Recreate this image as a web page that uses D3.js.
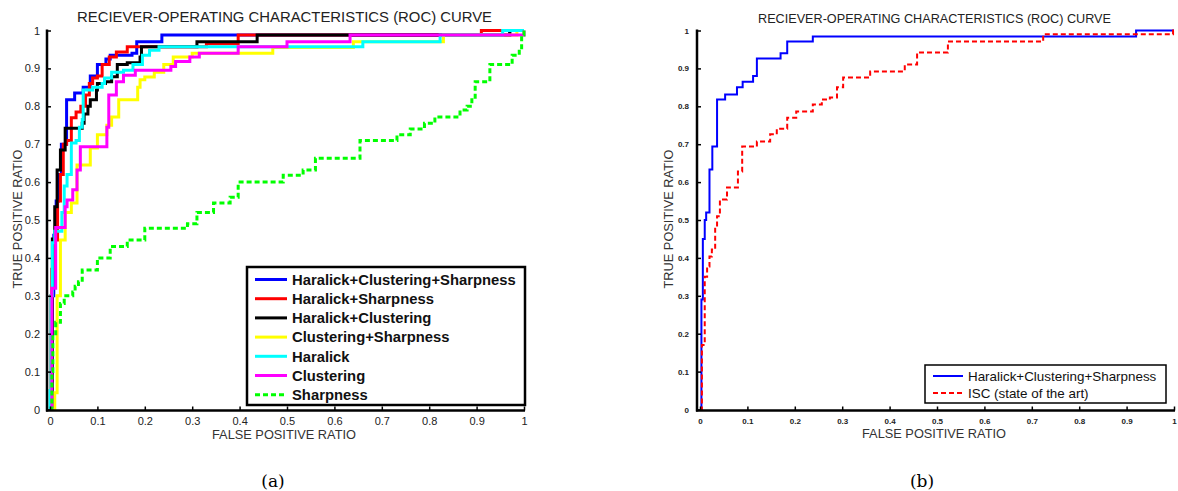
<!DOCTYPE html>
<html>
<head>
<meta charset="utf-8">
<script src="https://cdn.jsdelivr.net/npm/d3@7"></script>
<style>
  body { margin: 0; background: #fff; }
  text { font-family: "Liberation Sans", Arial, sans-serif; }
</style>
</head>
<body>
<div id="application"></div>
<script>
(function roc() {

  var width = 1178;
  var height = 491;

  var ticks = [0, 0.1, 0.2, 0.3, 0.4, 0.5, 0.6, 0.7, 0.8, 0.9, 1];

  // ROC staircases, [false positive ratio, true positive ratio]
  var hcs_a = [[0,0],[0.004,0.3],[0.008,0.46],[0.013,0.55],[0.018,0.62],[0.024,0.7],[0.035,0.817],[0.052,0.835],[0.07,0.85],[0.085,0.88],[0.1,0.91],[0.118,0.925],[0.127,0.935],[0.173,0.94],[0.183,0.97],[0.236,0.988],[0.97,1],[1,1]];
  var hs_a = [[0,0],[0.002,0.3],[0.004,0.37],[0.008,0.447],[0.016,0.55],[0.022,0.62],[0.028,0.7],[0.035,0.71],[0.045,0.77],[0.055,0.785],[0.065,0.8],[0.075,0.83],[0.083,0.86],[0.09,0.875],[0.1,0.88],[0.11,0.91],[0.125,0.93],[0.14,0.943],[0.163,0.957],[0.33,0.965],[0.397,0.988],[0.91,1],[1,1]];
  var hc_a = [[0,0],[0.005,0.45],[0.01,0.535],[0.015,0.632],[0.022,0.685],[0.032,0.742],[0.068,0.755],[0.072,0.78],[0.08,0.8],[0.085,0.817],[0.098,0.843],[0.1,0.86],[0.117,0.865],[0.13,0.878],[0.142,0.91],[0.163,0.915],[0.19,0.93],[0.193,0.957],[0.31,0.97],[0.437,0.988],[0.97,1],[1,1]];
  var cs_a = [[0,0],[0.01,0.044],[0.015,0.3],[0.022,0.447],[0.032,0.52],[0.045,0.545],[0.057,0.645],[0.085,0.69],[0.1,0.725],[0.12,0.75],[0.13,0.772],[0.145,0.817],[0.185,0.85],[0.19,0.87],[0.2,0.877],[0.22,0.89],[0.24,0.91],[0.26,0.93],[0.3,0.94],[0.47,0.955],[0.64,0.97],[0.83,0.988],[0.985,1],[1,1]];
  var har_a = [[0,0],[0,0.05],[0.002,0.3],[0.005,0.44],[0.01,0.47],[0.025,0.52],[0.03,0.59],[0.036,0.62],[0.045,0.703],[0.055,0.71],[0.062,0.745],[0.068,0.765],[0.07,0.843],[0.09,0.85],[0.11,0.86],[0.115,0.875],[0.13,0.89],[0.155,0.895],[0.175,0.91],[0.195,0.935],[0.21,0.948],[0.23,0.957],[0.66,0.97],[0.823,0.988],[0.955,1],[1,1]];
  var clu_a = [[0,0],[0.004,0.32],[0.012,0.48],[0.032,0.535],[0.036,0.553],[0.048,0.58],[0.057,0.632],[0.064,0.693],[0.12,0.745],[0.124,0.83],[0.14,0.865],[0.155,0.882],[0.18,0.895],[0.255,0.905],[0.265,0.918],[0.295,0.93],[0.315,0.94],[0.397,0.957],[0.5,0.97],[0.633,0.988],[1,1]];
  var sha_a = [[0,0],[0.004,0.1],[0.006,0.2],[0.012,0.23],[0.022,0.28],[0.03,0.3],[0.048,0.31],[0.053,0.325],[0.06,0.337],[0.068,0.368],[0.1,0.4],[0.127,0.43],[0.163,0.447],[0.2,0.478],[0.29,0.49],[0.31,0.52],[0.345,0.545],[0.38,0.56],[0.397,0.6],[0.492,0.618],[0.534,0.632],[0.56,0.663],[0.654,0.71],[0.732,0.725],[0.76,0.74],[0.79,0.755],[0.812,0.772],[0.865,0.79],[0.88,0.8],[0.89,0.817],[0.897,0.865],[0.928,0.91],[0.975,0.935],[0.99,0.95],[0.995,0.988],[1,1]];

  var hcs_b = [[0,0],[0.003,0.29],[0.006,0.45],[0.01,0.5],[0.013,0.52],[0.02,0.633],[0.026,0.694],[0.036,0.818],[0.053,0.831],[0.078,0.85],[0.09,0.865],[0.112,0.88],[0.12,0.926],[0.17,0.94],[0.184,0.971],[0.238,0.984],[0.92,1],[1,1]];
  var isc_b = [[0,0],[0.004,0.17],[0.01,0.35],[0.015,0.377],[0.02,0.404],[0.025,0.422],[0.032,0.48],[0.036,0.51],[0.042,0.554],[0.057,0.586],[0.08,0.628],[0.089,0.694],[0.12,0.707],[0.148,0.726],[0.162,0.741],[0.184,0.77],[0.203,0.786],[0.238,0.805],[0.257,0.818],[0.274,0.823],[0.289,0.85],[0.302,0.876],[0.359,0.892],[0.432,0.91],[0.458,0.942],[0.523,0.971],[0.724,0.99],[0.998,1],[1,1]];

  var names_a = ['Haralick+Clustering+Sharpness', 'Haralick+Sharpness', 'Haralick+Clustering',
    'Clustering+Sharpness', 'Haralick', 'Clustering', 'Sharpness'];
  var series_a = [hcs_a, hs_a, hc_a, cs_a, har_a, clu_a, sha_a];
  var colors_a = ['#0000ff', '#ff0000', '#000000', '#ffff00', '#00ffff', '#ff00ff', '#00ff00'];
  var dashed_a = [false, false, false, false, false, false, true];

  var names_b = ['Haralick+Clustering+Sharpness', 'ISC (state of the art)'];
  var series_b = [hcs_b, isc_b];
  var colors_b = ['#0000ff', '#ff0000'];
  var dashed_b = [false, true];

  var svg = d3.select('#application')
    .append('svg')
    .attr('width', width)
    .attr('height', height);

  function fmt(d) {
    return String(+d.toFixed(1));
  }

  function panel(o) {
    var x = d3.scaleLinear().domain([0, 1]).range([o.left, o.left + 474]);
    var y = d3.scaleLinear().domain([0, 1]).range([409.5, 30.5]);
    var g = svg.append('g');

    // curves first, axes drawn on top
    var line = d3.line()
      .x(function(d) { return x(d[0]); })
      .y(function(d) { return y(d[1]); })
      .curve(d3.curveStepAfter);

    o.series.forEach(function(s, i) {
      g.append('path')
        .attr('d', line(s))
        .attr('fill', 'none')
        .attr('stroke', o.colors[i])
        .attr('stroke-width', o.lw)
        .attr('stroke-dasharray', o.dashed[i] ? o.dash : null);
    });

    var ax = g.append('g')
      .attr('transform', 'translate(0,' + 410.5 + ')')
      .call(d3.axisBottom(x).tickValues(ticks).tickFormat(fmt)
        .tickSizeInner(-4).tickSizeOuter(0).tickPadding(o.xpad));
    var ay = g.append('g')
      .attr('transform', 'translate(' + (o.left - 3) + ',0)')
      .call(d3.axisLeft(y).tickValues(ticks).tickFormat(fmt)
        .tickSizeInner(-4).tickSizeOuter(0).tickPadding(o.ypad));

    [ax, ay].forEach(function(a) {
      a.select('.domain').attr('stroke', '#000').attr('stroke-width', 2.5);
      a.selectAll('.tick line').attr('stroke', '#000').attr('stroke-width', 1.5);
      a.selectAll('.tick text')
        .attr('fill', '#222')
        .style('font-size', o.tickFont + 'px')
        .style('font-weight', o.tickWeight);
    });
    ax.select('.domain').attr('d', 'M' + (o.left - 4) + ',0H' + (o.left + 475));
    ay.select('.domain').attr('d', 'M0,' + 29.5 + 'V' + 411.5);

    g.append('text')
      .attr('x', o.titleX).attr('y', o.titleY)
      .attr('text-anchor', 'middle')
      .attr('textLength', o.titleW).attr('lengthAdjust', 'spacingAndGlyphs')
      .attr('fill', '#222')
      .style('font-size', o.titleFont + 'px')
      .text('RECIEVER-OPERATING CHARACTERISTICS (ROC) CURVE');

    g.append('text')
      .attr('x', x(0.5) - 3).attr('y', o.xlabY)
      .attr('text-anchor', 'middle')
      .attr('textLength', 144).attr('lengthAdjust', 'spacingAndGlyphs')
      .attr('fill', '#333')
      .style('font-size', '13px')
      .text('FALSE POSITIVE RATIO');

    g.append('text')
      .attr('transform', 'translate(' + o.ylabX + ',219) rotate(-90)')
      .attr('text-anchor', 'middle')
      .attr('textLength', 139).attr('lengthAdjust', 'spacingAndGlyphs')
      .attr('fill', '#333')
      .style('font-size', '13px')
      .text('TRUE POSITIVE RATIO');

    // legend
    var L = o.legend;
    g.append('rect')
      .attr('x', L.x).attr('y', L.y)
      .attr('width', L.w).attr('height', L.h)
      .attr('fill', '#fff')
      .attr('stroke', '#000')
      .attr('stroke-width', L.bw);
    o.names.forEach(function(n, i) {
      var cy = L.y0 + i * L.step;
      g.append('line')
        .attr('x1', L.x + 8).attr('x2', L.x + 8 + L.len)
        .attr('y1', cy).attr('y2', cy)
        .attr('stroke', o.colors[i])
        .attr('stroke-width', o.lw)
        .attr('stroke-dasharray', o.dashed[i] ? o.dash : null);
      g.append('text')
        .attr('x', L.x + 13 + L.len).attr('y', cy + L.font * 0.36)
        .attr('fill', '#111')
        .style('font-size', L.font + 'px')
        .style('font-weight', L.weight)
        .text(n);
    });

    g.append('text')
      .attr('x', o.capX).attr('y', 487)
      .attr('text-anchor', 'middle')
      .style('font-family', '"DejaVu Serif", "Liberation Serif", serif')
      .style('font-size', '17px')
      .text(o.caption);
  }

  panel({
    left: 50, series: series_a, names: names_a, colors: colors_a, dashed: dashed_a,
    lw: 3, dash: '5,3', xpad: 7, ypad: 7, tickFont: 11, tickWeight: 'normal',
    titleX: 284.5, titleY: 21.5, titleW: 415, titleFont: 15,
    xlabY: 439, ylabX: 22,
    legend: { x: 247, y: 267, w: 278, h: 138, bw: 2.5, y0: 279.5, step: 19.2, len: 32, font: 14.8, weight: 'bold' },
    capX: 273, caption: '(a)'
  });

  panel({
    left: 700, series: series_b, names: names_b, colors: colors_b, dashed: dashed_b,
    lw: 2, dash: '5,3', xpad: 8, ypad: 8, tickFont: 8, tickWeight: 'bold',
    titleX: 934.5, titleY: 23, titleW: 353, titleFont: 13.5,
    xlabY: 438, ylabX: 673,
    legend: { x: 925, y: 365, w: 241, h: 38, bw: 1.5, y0: 376, step: 17, len: 30, font: 13.4, weight: 'normal' },
    capX: 922, caption: '(b)'
  });

})();
</script>
</body>
</html>
